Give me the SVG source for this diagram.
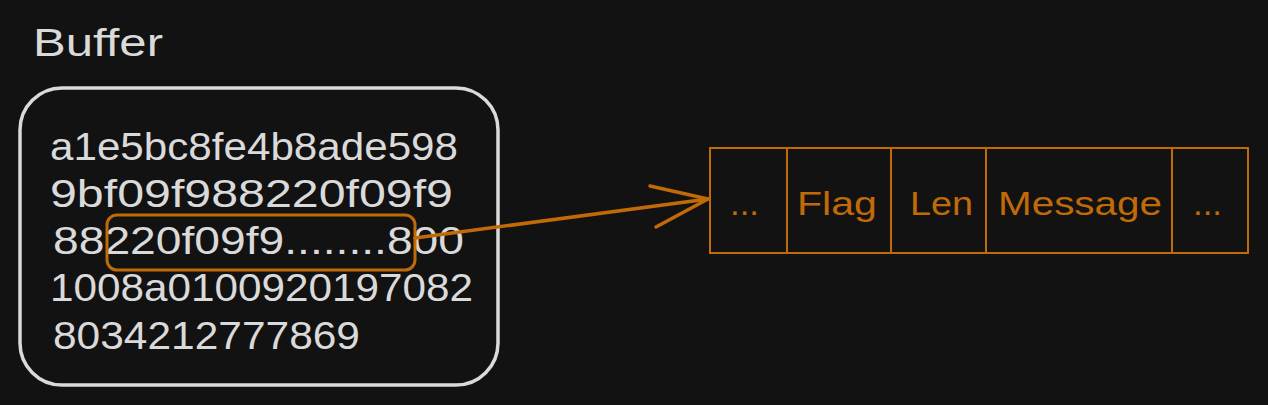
<svg xmlns="http://www.w3.org/2000/svg" width="1268" height="405" viewBox="0 0 1268 405">
<style>
.bg{fill:#121212}
.txt{font-family:"Liberation Sans",Arial,sans-serif;fill:#dadada}
.otxt{font-family:"Liberation Sans",Arial,sans-serif;fill:#c06a08;font-size:33px}
.obox{fill:none;stroke:#c06a08;stroke-width:2}
.wline{fill:none;stroke:#dadada;stroke-width:3.5}
.oline{fill:none;stroke:#c06a08;stroke-width:3.5;stroke-linecap:round;stroke-linejoin:round}
</style>
<rect class="bg" x="0" y="0" width="1268" height="405"/>
<g id="title">
<text class="txt" x="33" y="56" font-size="38" textLength="130" lengthAdjust="spacingAndGlyphs">Buffer</text>
</g>
<g id="buffer">
<rect class="wline" x="20" y="88" width="478" height="297" rx="42" ry="42"/>
<text class="txt" font-size="38" x="50" y="160" textLength="408" lengthAdjust="spacingAndGlyphs">a1e5bc8fe4b8ade598</text>
<text class="txt" font-size="38" x="50" y="207" textLength="403" lengthAdjust="spacingAndGlyphs">9bf09f988220f09f9</text>
<text class="txt" font-size="38" x="53" y="254" textLength="411" lengthAdjust="spacingAndGlyphs">88220f09f9........800</text>
<text class="txt" font-size="38" x="50" y="301" textLength="423" lengthAdjust="spacingAndGlyphs">1008a0100920197082</text>
<text class="txt" font-size="38" x="53" y="349" textLength="307" lengthAdjust="spacingAndGlyphs">8034212777869</text>
</g>
<g id="selection">
<rect x="107" y="215" width="308" height="55" rx="10" ry="10" fill="none" stroke="#c06a08" stroke-width="3"/>
</g>
<g id="packet">
<rect class="obox" x="710" y="148" width="538" height="105"/>
<line class="obox" x1="787" y1="148" x2="787" y2="253"/>
<line class="obox" x1="891" y1="148" x2="891" y2="253"/>
<line class="obox" x1="986" y1="148" x2="986" y2="253"/>
<line class="obox" x1="1172" y1="148" x2="1172" y2="253"/>
<text class="otxt" x="730" y="215" textLength="29" lengthAdjust="spacingAndGlyphs">...</text>
<text class="otxt" x="797" y="215" textLength="80" lengthAdjust="spacingAndGlyphs">Flag</text>
<text class="otxt" x="910" y="215" textLength="63" lengthAdjust="spacingAndGlyphs">Len</text>
<text class="otxt" x="998" y="215" textLength="164" lengthAdjust="spacingAndGlyphs">Message</text>
<text class="otxt" x="1193" y="215" textLength="29" lengthAdjust="spacingAndGlyphs">...</text>
</g>
<g id="connectors">
<path class="oline" d="M415 238 Q560 219 708 199"/>
<path class="oline" d="M650 186 L708 199 L656 227"/>
</g>
</svg>
